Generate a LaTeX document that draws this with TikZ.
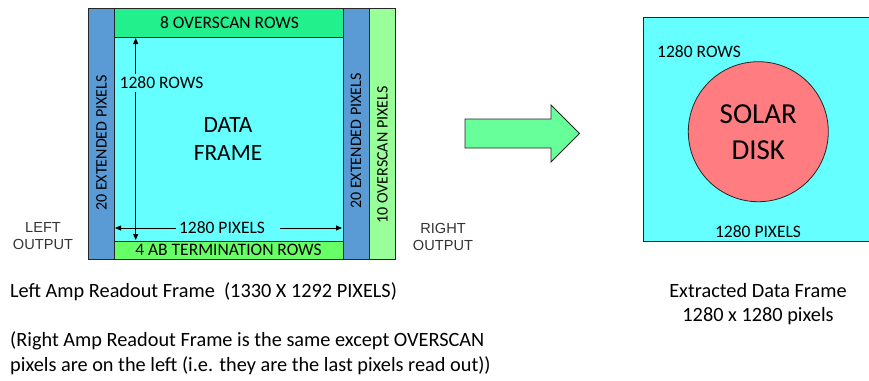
\documentclass[tikz,border=0pt]{standalone}
\usepackage{fontspec}
\setmainfont{Carlito}
\newfontfamily\arialf{Liberation Sans}
\usetikzlibrary{arrows.meta}
\definecolor{cyanf}{HTML}{66FFFF}
\definecolor{bluec}{HTML}{5B9BD5}
\definecolor{topg}{HTML}{22F08C}
\definecolor{botg}{HTML}{66FF66}
\definecolor{rgtg}{HTML}{99FF99}
\definecolor{disk}{HTML}{FF7C80}
\definecolor{arrg}{HTML}{66FF99}
\begin{document}
\begin{tikzpicture}[x=1pt,y=-1pt,
  region/.style={draw=black!85,line width=0.8pt},
  lbl/.style={font=\fontsize{17.5}{19}\selectfont,inner sep=0pt},
  vlbl/.style={font=\fontsize{16}{18}\selectfont,inner sep=0pt,rotate=90},
  numl/.style={font=\fontsize{17.5}{20}\selectfont,inner sep=0pt},
  big/.style={font=\fontsize{23.4}{28}\selectfont,align=center,inner sep=0pt},
  outl/.style={font=\arialf\fontsize{14.6}{17}\selectfont,align=center,inner sep=0pt,text=black!80},
  captxt/.style={font=\fontsize{20.3}{24}\selectfont,inner sep=0pt,align=left},
  dim/.style={-{Triangle[length=6pt,width=5pt]},line width=0.8pt}]
\useasboundingbox (0,0) rectangle (869,380);
% left frame
\draw[region,fill=bluec] (88,8) rectangle (114,259);
\draw[region,fill=topg] (114,8) rectangle (343,37);
\draw[region,fill=cyanf] (114,37) rectangle (343,241);
\draw[region,fill=botg] (114,241) rectangle (343,259);
\draw[region,fill=bluec] (343,8) rectangle (369,259);
\draw[region,fill=rgtg] (369,8) rectangle (395,259);
\node[lbl] (ovr) at (229.5,23) {8 OVERSCAN ROWS};
\node[lbl] (abt) at (228.5,250) {4 AB TERMINATION ROWS};
\node[vlbl] (lext) at (101.5,143) {20 EXTENDED PIXELS};
\node[vlbl] (rext) at (356,141) {20 EXTENDED PIXELS};
\node[vlbl] (rovs) at (382.5,155) {10 OVERSCAN PIXELS};
\node[big] (data) at (228,139) {DATA\\FRAME};
\node[numl,anchor=west,fill=cyanf,inner xsep=1pt,inner ysep=3pt] (rows) at (118.5,83) {1280 ROWS};
\coordinate (vt) at (135.7,38);
\coordinate (vb) at (135.7,240);
\draw[dim,{Triangle[length=6pt,width=5pt]}-] (vt) -- (rows.north -| vt);
\draw[dim] (rows.south -| vt) -- (vb);
\node[numl] (pix) at (222,228) {1280 PIXELS};
\coordinate (hl) at (115,228);
\coordinate (hr) at (342,228);
\coordinate (hg) at (280,228);
\draw[dim] (pix.west) ++(-3,0) -- (hl);
\draw[dim] (hg) -- (hr);
\node[outl] (lout) at (43,236.5) {LEFT\\OUTPUT};
\node[outl] (rout) at (443,236.5) {RIGHT\\OUTPUT};
% arrow
\draw[region,fill=arrg] (465,119) -- (551,119) -- (551,105) -- (579.5,133.5) -- (551,162) -- (551,148) -- (465,148) -- cycle;
% right frame
\draw[region,fill=cyanf] (643.5,17.5) rectangle (869.5,241);
\draw[region,fill=disk] (758.3,131.7) circle (70);
\node[font=\fontsize{29}{36}\selectfont,align=center,inner sep=0pt] (solar) at (758.3,132) {SOLAR\\DISK};
\node[numl,anchor=west] (rrows) at (657,52) {1280 ROWS};
\node[numl] (rpix) at (758,232) {1280 PIXELS};
% captions
\node[captxt,anchor=west] (c1) at (10,292) {Left Amp Readout Frame\ \ (1330 X 1292 PIXELS)};
\node[captxt,anchor=west] (c2) at (10,341) {(Right Amp Readout Frame is the same except OVERSCAN};
\node[captxt,anchor=west] (c3) at (10,366) {pixels are on the left (i.e. they are the last pixels read out))};
\node[captxt,align=center] (c4) at (758,304) {Extracted Data Frame\\1280 x 1280 pixels};
\end{tikzpicture}
\end{document}
